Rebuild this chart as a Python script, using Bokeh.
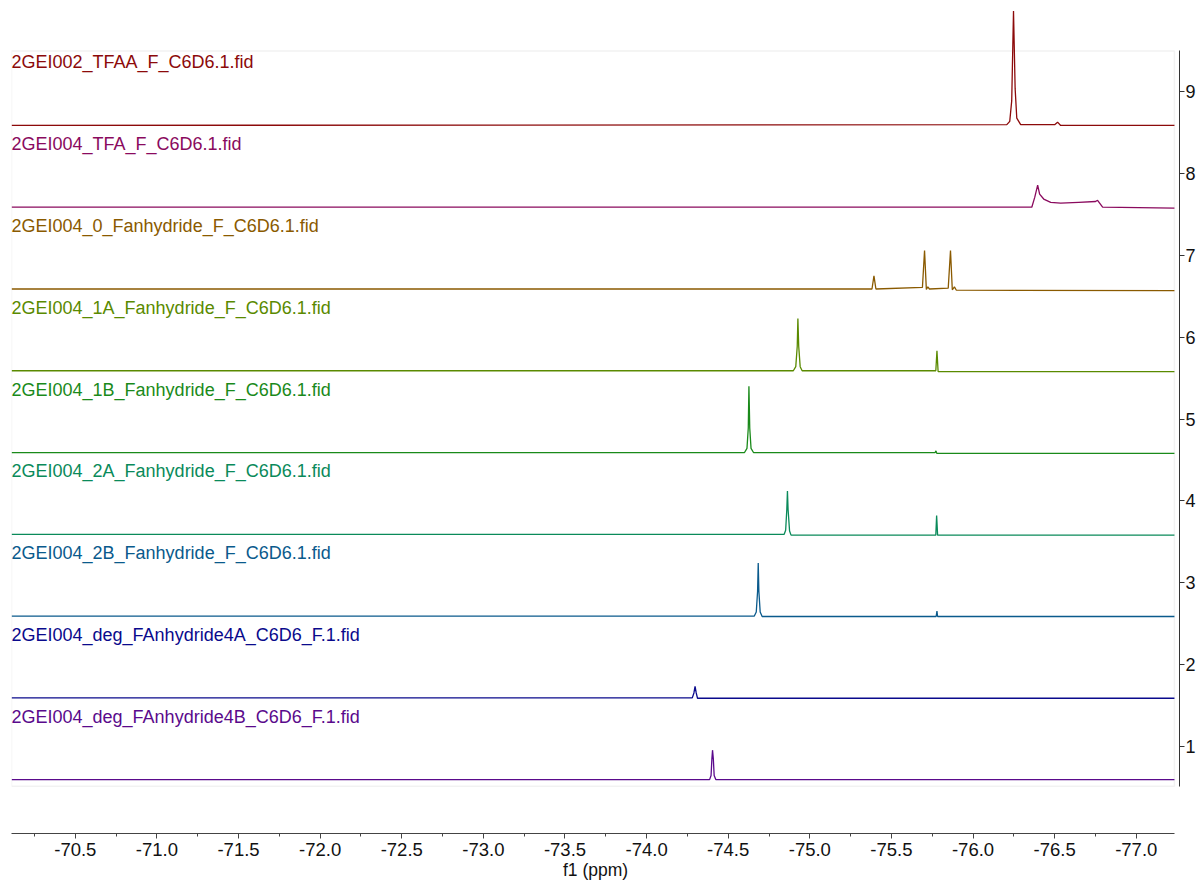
from bokeh.plotting import figure
from bokeh.models import (Range1d, SingleIntervalTicker, FixedTicker, PrintfTickFormatter,
                          ColumnDataSource, BoxAnnotation)
from bokeh.core.properties import value
from bokeh.embed import file_html
from bokeh.resources import INLINE

# ---------------- data ----------------
# spectrum names, bottom (1) to top (9)
names = [
    "2GEI004_deg_FAnhydride4B_C6D6_F.1.fid",
    "2GEI004_deg_FAnhydride4A_C6D6_F.1.fid",
    "2GEI004_2B_Fanhydride_F_C6D6.1.fid",
    "2GEI004_2A_Fanhydride_F_C6D6.1.fid",
    "2GEI004_1B_Fanhydride_F_C6D6.1.fid",
    "2GEI004_1A_Fanhydride_F_C6D6.1.fid",
    "2GEI004_0_Fanhydride_F_C6D6.1.fid",
    "2GEI004_TFA_F_C6D6.1.fid",
    "2GEI002_TFAA_F_C6D6.1.fid",
]
colors = ["#5a0a8c", "#0a0a8c", "#0a5a8c", "#0a8a5a", "#1a8a1a",
          "#5a8a00", "#8a5a00", "#8a0a5e", "#8c0a0a"]

# chemical shift (ppm) and intensity (relative to each spectrum's baseline)
ppm_1 = [-70.11, -74.386, -74.395, -74.400, -74.404, -74.409, -74.414, -74.424, -77.234]
int_1 = [0.0, 0.0, 0.05, 0.25, 0.36, 0.25, 0.05, 0.0, 0.0]

ppm_2 = [-70.11, -74.280, -74.290, -74.297, -74.304, -74.312, -77.234]
int_2 = [0.0, 0.0, 0.06, 0.14, 0.06, -0.005, -0.005]

ppm_3 = [-70.11, -74.660, -74.672, -74.680, -74.684, -74.688, -74.696, -74.708,
         -75.774, -75.779, -75.783, -77.234]
int_3 = [0.0, 0.0, 0.05, 0.3, 0.65, 0.3, 0.05, -0.005, -0.005, 0.06, -0.005, -0.005]

ppm_4 = [-70.11, -74.843, -74.852, -74.859, -74.863, -74.867, -74.876, -74.885,
         -75.772, -75.777, -75.783, -77.234]
int_4 = [0.0, 0.0, 0.05, 0.3, 0.53, 0.3, 0.04, -0.01, -0.01, 0.23, -0.01, -0.01]

ppm_5 = [-70.11, -74.600, -74.615, -74.623, -74.627, -74.632, -74.640, -74.655,
         -75.768, -75.773, -75.778, -77.234]
int_5 = [0.0, 0.0, 0.05, 0.3, 0.81, 0.3, 0.05, 0.0, 0.0, 0.02, -0.01, -0.01]

ppm_6 = [-70.11, -74.899, -74.914, -74.923, -74.927, -74.932, -74.941, -74.953,
         -75.772, -75.779, -75.786, -77.234]
int_6 = [0.0, 0.0, 0.05, 0.3, 0.64, 0.3, 0.05, 0.0, 0.0, 0.245, -0.01, -0.01]

ppm_7 = [-70.11, -75.381, -75.393, -75.405, -75.690, -75.703, -75.714, -75.723, -75.733,
         -75.848, -75.862, -75.873, -75.886, -75.898, -77.234]
int_7 = [0.0, 0.0, 0.16, 0.0, 0.02, 0.47, -0.005, 0.025, 0.0,
         0.01, 0.47, -0.01, 0.025, -0.015, -0.02]

ppm_8 = [-70.11, -76.360, -76.378, -76.396, -76.408, -76.433, -76.476, -76.537,
         -76.647, -76.751, -76.763, -76.794, -77.234]
int_8 = [0.0, 0.0, 0.12, 0.27, 0.16, 0.10, 0.06, 0.05, 0.06, 0.07, 0.085, 0.0, -0.01]

ppm_9 = [-70.11, -76.207, -76.225, -76.237, -76.248, -76.258, -76.268, -76.292,
         -76.500, -76.518, -76.537, -77.234]
int_9 = [0.0, 0.01, 0.05, 0.30, 1.40, 0.45, 0.09, 0.01, 0.01, 0.04, 0.0, 0.0]

spectrum_ppm = [ppm_1, ppm_2, ppm_3, ppm_4, ppm_5, ppm_6, ppm_7, ppm_8, ppm_9]
spectrum_int = [int_1, int_2, int_3, int_4, int_5, int_6, int_7, int_8, int_9]

stack_ticks = [1, 2, 3, 4, 5, 6, 7, 8, 9]

# ---------------- layout / style ----------------
FONT = "Liberation Sans"
BASE_SHIFT = -0.41   # baseline of spectrum k sits at k + BASE_SHIFT
LABEL_SHIFT = 0.77   # label centre above the baseline

x_left, x_right = -70.109, -77.265
p = figure(width=1198, height=882, output_backend="svg", toolbar_location=None,
           x_range=Range1d(x_left, x_right), y_range=Range1d(-0.069, 10.118),
           y_axis_location="right",
           min_border_left=11, min_border_right=0, min_border_top=0, min_border_bottom=0)
p.outline_line_color = None
p.grid.visible = False
p.background_fill_color = "white"
p.border_fill_color = "white"

frame = BoxAnnotation(left=x_left, right=-77.234, bottom=0.509, top=9.501,
                      fill_alpha=0, line_color="#d4d4d4", line_width=1.5, level="underlay")
p.add_layout(frame)

for k, (xs, ys, c, nm) in enumerate(zip(spectrum_ppm, spectrum_int, colors, names), start=1):
    base = k + BASE_SHIFT
    src = ColumnDataSource(dict(x=xs, y=[v + base for v in ys]))
    p.line("x", "y", source=src, line_color=c, line_width=1.3)
    p.text(x=[x_left], y=[base + LABEL_SHIFT], text=[nm], text_color=c,
           text_font=value(FONT), text_font_size="18px",
           text_align="left", text_baseline="middle", x_offset=0)

xa = p.xaxis[0]
xa.ticker = SingleIntervalTicker(interval=0.5, num_minor_ticks=2)
xa.formatter = PrintfTickFormatter(format="%.1f")
xa.bounds = (-77.234, x_left)
xa.axis_label = "f1 (ppm)"
xa.axis_label_text_font = FONT
xa.axis_label_text_font_style = "normal"
xa.axis_label_text_font_size = "17.5px"
xa.axis_label_text_color = "#111111"
xa.axis_label_standoff = 1
xa.major_label_text_font = FONT
xa.major_label_text_font_size = "18.5px"
xa.major_label_text_color = "#111111"
xa.major_label_standoff = 4
xa.major_tick_in = 0
xa.major_tick_out = 5
xa.minor_tick_in = 0
xa.minor_tick_out = 3
xa.axis_line_color = "#444444"
xa.major_tick_line_color = "#444444"
xa.minor_tick_line_color = "#444444"

ya = p.yaxis[0]
ya.ticker = FixedTicker(ticks=stack_ticks)
ya.bounds = (0.509, 9.501)
ya.major_label_text_font = FONT
ya.major_label_text_font_size = "18px"
ya.major_label_text_color = "#111111"
ya.major_label_standoff = 1
ya.major_tick_in = 0
ya.major_tick_out = 5
ya.minor_tick_in = 0
ya.minor_tick_out = 0
ya.axis_line_color = "#333333"
ya.major_tick_line_color = "#333333"

open("out.html", "w").write(file_html(p, INLINE))
